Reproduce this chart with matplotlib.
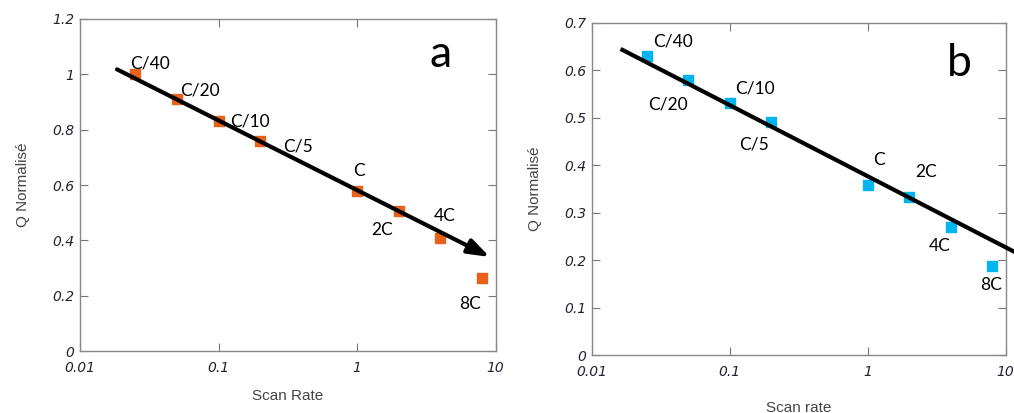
import numpy as np
import matplotlib.pyplot as plt

# Données (vitesse de balayage en C)
rates = ['C/40', 'C/20', 'C/10', 'C/5', 'C', '2C', '4C', '8C']
scan_rate = [0.025, 0.05, 0.1, 0.2, 1, 2, 4, 8]
q_a = [1.00, 0.91, 0.83, 0.76, 0.58, 0.505, 0.41, 0.265]
q_b = [0.63, 0.578, 0.53, 0.49, 0.358, 0.333, 0.27, 0.188]

# positions des étiquettes (coordonnées données)
lab_a_x = [0.023, 0.0527, 0.121, 0.292, 0.93, 1.256, 3.6, 5.48]
lab_a_y = [1.04, 0.941, 0.831, 0.738, 0.652, 0.437, 0.488, 0.17]
lab_b_x = [0.0278, 0.0255, 0.109, 0.117, 1.1, 2.2, 2.75, 6.5]
lab_b_y = [0.66, 0.528, 0.562, 0.444, 0.411, 0.385, 0.23, 0.147]

# tendances tracées à la main
arrow_a = [(0.0185, 1.018), (9.1, 0.34)]
line_b_x = [0.0167, 11.5]
line_b_y = [0.6425, 0.2176]

orange = '#E8621A'
cyan = '#00B4EE'
lab_font = 'Lato'

fig = plt.figure(figsize=(10.14, 4.13), dpi=100)
ax1 = fig.add_axes([0.0789, 0.150, 0.4098, 0.804])
ax2 = fig.add_axes([0.5835, 0.1404, 0.4083, 0.805])


def style(ax, ymax, ystep, xlabel, xpad):
    ax.set_xscale('log')
    ax.set_xlim(0.01, 10)
    ax.set_ylim(0, ymax)
    yt = np.round(np.arange(0, ymax + ystep / 2, ystep), 2)
    ax.set_yticks(yt)
    ax.set_yticklabels(['%g' % v for v in yt])
    ax.set_xticks([0.01, 0.1, 1, 10])
    ax.set_xticklabels(['0.01', '0.1', '1', '10'])
    ax.minorticks_off()
    ax.tick_params(direction='in', length=6, width=0.8, color='#777777',
                   top=True, right=True, labelsize=10, labelcolor='#222233')
    ax.tick_params(axis='x', pad=7)
    ax.tick_params(axis='y', pad=4)
    for t in ax.get_xticklabels() + ax.get_yticklabels():
        t.set_fontstyle('italic')
    for s in ax.spines.values():
        s.set_color('#888888')
        s.set_linewidth(1.0)
    ax.set_ylabel('Q Normalisé', fontsize=11, color='#444444', labelpad=16,
                  family='Liberation Sans')
    ax.set_xlabel(xlabel, fontsize=11, color='#444444', labelpad=xpad,
                  family='Liberation Sans')


# --- panneau a ---
style(ax1, 1.2, 0.2, 'Scan Rate', 10)
ax1.scatter(scan_rate, q_a, marker='s', s=55, color=orange, zorder=2)
for r, x, y in zip(rates, lab_a_x, lab_a_y):
    ax1.text(x, y, r, fontsize=12.5, family=lab_font, ha='left', va='center', zorder=4)
ax1.annotate('', xy=arrow_a[1], xytext=arrow_a[0],
             arrowprops=dict(arrowstyle='-|>,head_length=1.3,head_width=0.45',
                             color='black', lw=3, shrinkA=0, shrinkB=0), zorder=3)
ax1.text(4.0, 1.07, 'a', fontsize=32, family=lab_font, ha='center', va='center')

# --- panneau b ---
style(ax2, 0.7, 0.1, 'Scan rate', 16)
ax2.scatter(scan_rate, q_b, marker='s', s=55, color=cyan, zorder=2)
ax2.plot(line_b_x, line_b_y, color='black', lw=3, clip_on=False, zorder=3)
for r, x, y in zip(rates, lab_b_x, lab_b_y):
    ax2.text(x, y, r, fontsize=12.5, family=lab_font, ha='left', va='center', zorder=4)
ax2.text(4.6, 0.614, 'b', fontsize=32, family=lab_font, ha='center', va='center')

fig.savefig('out.png', dpi=100)
